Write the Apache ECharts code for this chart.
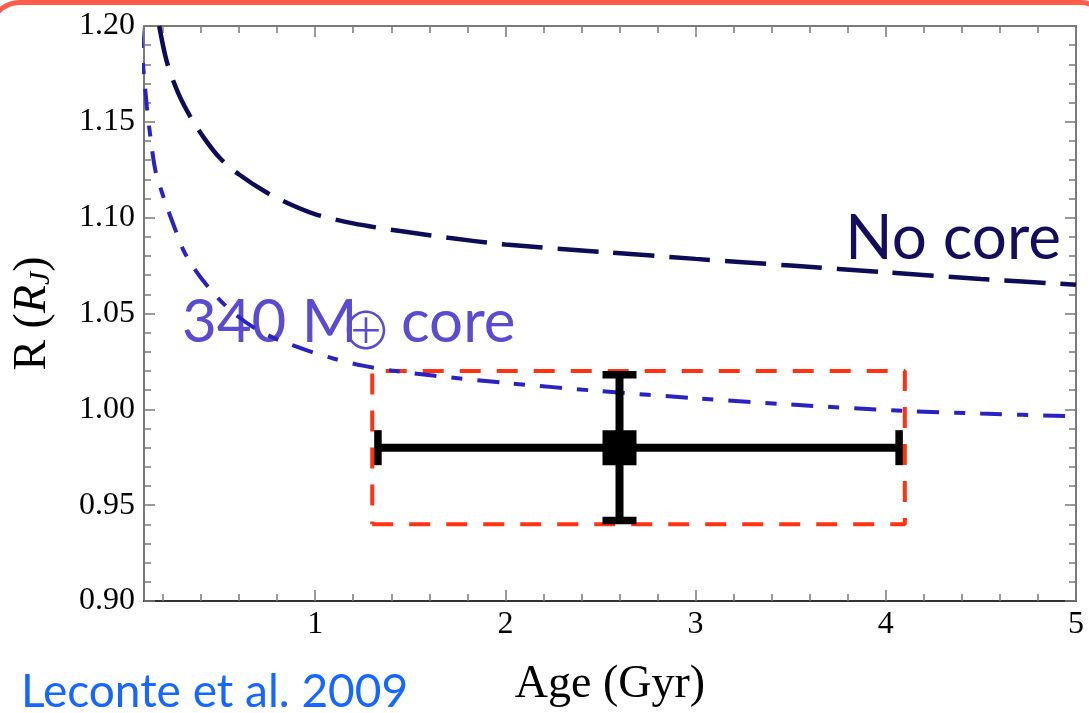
<!DOCTYPE html>
<html>
<head>
<meta charset="utf-8">
<script src="https://cdn.jsdelivr.net/npm/echarts@6/dist/echarts.min.js"></script>
<style>
html,body{margin:0;padding:0;background:#fff;}
#chart{width:1089px;height:713px;}
</style>
</head>
<body>
<div id="chart"></div>
<script>
// ---- data ----
const noCoreAge = [0.18, 0.221, 0.28, 0.342, 0.42, 0.5, 0.6, 0.747, 0.88, 1.01, 1.2, 1.447, 1.7, 2.0, 2.5, 3.0, 3.5, 4.0, 4.5, 5.0];
const noCoreR   = [1.200, 1.181, 1.165, 1.153, 1.141, 1.131, 1.1225, 1.113, 1.1065, 1.1015, 1.097, 1.093, 1.0895, 1.086, 1.0822, 1.0785, 1.075, 1.0715, 1.068, 1.065];

const coreAge = [0.079, 0.09, 0.10, 0.115, 0.135, 0.16, 0.19, 0.221, 0.26, 0.305, 0.35, 0.395, 0.48, 0.568, 0.68, 0.8, 0.95, 1.095, 1.25, 1.4, 1.63, 2.0, 2.5, 3.0, 3.5, 4.1, 4.5, 5.0];
const coreR   = [1.200, 1.186, 1.174, 1.158, 1.141, 1.1245, 1.1145, 1.1055, 1.095, 1.0835, 1.0757, 1.0692, 1.059, 1.0505, 1.0425, 1.0365, 1.031, 1.0265, 1.0228, 1.0203, 1.0175, 1.0138, 1.0095, 1.0058, 1.0025, 0.9992, 0.9978, 0.9963];

const pointAge = [2.6];
const pointR = [0.98];
const pointAgeRange = [1.33, 4.07];
const pointRRange = [0.942, 1.018];

const boxAge = [1.3, 4.1, 4.1, 1.3, 1.3];
const boxR   = [0.94, 0.94, 1.02, 1.02, 0.94];

const xMajor = [1, 2, 3, 4, 5];
const xMinor = [0.2, 0.4, 0.6, 0.8, 1.2, 1.4, 1.6, 1.8, 2.2, 2.4, 2.6, 2.8, 3.2, 3.4, 3.6, 3.8, 4.2, 4.4, 4.6, 4.8];
const yMajor = [0.90, 0.95, 1.00, 1.05, 1.10, 1.15, 1.20];
const yMinor = [0.91, 0.92, 0.93, 0.94, 0.96, 0.97, 0.98, 0.99, 1.01, 1.02, 1.03, 1.04,
                1.06, 1.07, 1.08, 1.09, 1.11, 1.12, 1.13, 1.14, 1.16, 1.17, 1.18, 1.19];

const labelNoCore = 'No core';
const labelCoreA = '340 M';
const labelCoreSym = '⊕';
const labelCoreB = 'core';
const labelRef = 'Leconte et al. 2009';
const xTitle = 'Age (Gyr)';

// ---- chart ----
const chart = echarts.init(document.getElementById('chart'), null, {renderer: 'canvas'});
const serif = 'Liberation Serif';
const gray = '#7a7a7a';

function xAx(pos, ticks, len, showLine, showLabel, lineColor) {
  return {
    type: 'value', position: pos, min: 0.1, max: 5,
    axisLine: {show: showLine, lineStyle: {color: lineColor || gray, width: 2}},
    axisTick: {show: true, inside: true, length: len, customValues: ticks, lineStyle: {color: gray, width: 1.5}},
    axisLabel: showLabel ? {show: true, customValues: ticks, color: '#000', fontFamily: serif, fontSize: 32, margin: 8} : {show: false},
    splitLine: {show: false}
  };
}
function yAx(pos, ticks, len, showLine, showLabel) {
  return {
    type: 'value', position: pos, min: 0.9, max: 1.2,
    axisLine: {show: showLine, lineStyle: {color: gray, width: 2}},
    axisTick: {show: true, inside: true, length: len, customValues: ticks, lineStyle: {color: gray, width: 1.5}},
    axisLabel: showLabel ? {show: true, customValues: ticks, color: '#000', fontFamily: serif, fontSize: 32, margin: 9,
      formatter: v => v.toFixed(2)} : {show: false},
    splitLine: {show: false}
  };
}

const xMain = xAx('bottom', xMajor, 11, true, true, '#333');
xMain.name = xTitle;
xMain.nameLocation = 'middle';
xMain.nameGap = 61;
xMain.nameTextStyle = {color: '#000', fontFamily: serif, fontSize: 46};

const yMain = yAx('left', yMajor, 11, true, true);
yMain.name = '{n|R (}{i|R}{s|J}{n|)}';
yMain.nameLocation = 'middle';
yMain.nameRotate = 90;
yMain.nameGap = 88;
yMain.nameTextStyle = {
  color: '#000',
  rich: {
    n: {fontFamily: serif, fontSize: 46, color: '#000'},
    i: {fontFamily: serif, fontSize: 46, fontStyle: 'italic', color: '#000'},
    s: {fontFamily: serif, fontSize: 30, fontStyle: 'italic', color: '#000', verticalAlign: 'bottom'}
  }
};

const option = {
  animation: false,
  backgroundColor: '#fff',
  grid: {left: 144, right: 13, top: 26, bottom: 111, containLabel: false},
  xAxis: [
    xMain,
    xAx('bottom', xMinor, 7, false, false),
    xAx('top', xMajor, 11, true, false),
    xAx('top', xMinor, 7, false, false)
  ],
  yAxis: [
    yMain,
    yAx('left', yMinor, 7, false, false),
    yAx('right', yMajor, 11, true, false),
    yAx('right', yMinor, 7, false, false)
  ],
  series: [
    {
      name: 'box', type: 'line', z: 2,
      data: boxAge.map((a, i) => [a, boxR[i]]),
      showSymbol: false, symbol: 'none',
      lineStyle: {color: '#ff3312', width: 4, type: [21, 16]}
    },
    {
      name: '340 core', type: 'line', z: 3, smooth: 0.3, clip: false,
      data: coreAge.map((a, i) => [a, coreR[i]]),
      showSymbol: false, symbol: 'none',
      lineStyle: {color: '#2b22c2', width: 4, type: [22, 15, 11, 15]}
    },
    {
      name: 'No core', type: 'line', z: 3, smooth: 0.3,
      data: noCoreAge.map((a, i) => [a, noCoreR[i]]),
      showSymbol: false, symbol: 'none',
      lineStyle: {color: '#0e0b57', width: 4.5, type: [41, 15]}
    },
    {
      name: 'errorbar', type: 'custom', z: 5,
      data: pointAge.map((a, i) => [a, pointR[i], pointAgeRange[0], pointAgeRange[1], pointRRange[0], pointRRange[1]]),
      encode: {x: [0, 2, 3], y: [1, 4, 5]},
      renderItem: function (params, api) {
        const y = api.value(1), x = api.value(0);
        const l = api.coord([api.value(2), y]);
        const r = api.coord([api.value(3), y]);
        const b = api.coord([x, api.value(4)]);
        const t = api.coord([x, api.value(5)]);
        const st = {stroke: '#000', lineWidth: 8};
        const capH = 17.5, capW = 17;
        return {
          type: 'group',
          children: [
            {type: 'line', shape: {x1: l[0], y1: l[1], x2: r[0], y2: r[1]}, style: st},
            {type: 'line', shape: {x1: b[0], y1: b[1], x2: t[0], y2: t[1]}, style: st},
            {type: 'line', shape: {x1: l[0], y1: l[1] - capH, x2: l[0], y2: l[1] + capH}, style: {stroke: '#000', lineWidth: 7.5}},
            {type: 'line', shape: {x1: r[0], y1: r[1] - capH, x2: r[0], y2: r[1] + capH}, style: {stroke: '#000', lineWidth: 7.5}},
            {type: 'line', shape: {x1: t[0] - capW, y1: t[1], x2: t[0] + capW, y2: t[1]}, style: {stroke: '#000', lineWidth: 7.5}},
            {type: 'line', shape: {x1: b[0] - capW, y1: b[1], x2: b[0] + capW, y2: b[1]}, style: {stroke: '#000', lineWidth: 7.5}}
          ]
        };
      }
    },
    {
      name: 'point', type: 'scatter', z: 6,
      data: pointAge.map((a, i) => [a, pointR[i]]),
      symbol: 'rect', symbolSize: [34, 35],
      itemStyle: {color: '#000', opacity: 1}
    }
  ],
  graphic: [
    {
      type: 'rect', z: 100, silent: true,
      shape: {x: -10, y: 2.5, width: 1120, height: 800, r: 30},
      style: {fill: 'none', stroke: '#ff5c4d', lineWidth: 5}
    },
    {
      type: 'text', z: 50, x: 1061, y: 239,
      style: {text: labelNoCore, fill: '#140c5c', font: '62px Lato', textAlign: 'right', textVerticalAlign: 'middle'}
    },
    {
      type: 'text', z: 1, x: 182, y: 323,
      style: {text: labelCoreA, fill: '#5b4bd1', font: '60px Lato', textAlign: 'left', textVerticalAlign: 'middle'}
    },
    {
      type: 'text', z: 1, x: 366, y: 330,
      style: {text: labelCoreSym, fill: '#5b4bd1', font: '300 52px "Noto Sans CJK SC"', textAlign: 'center', textVerticalAlign: 'middle'}
    },
    {
      type: 'text', z: 1, x: 401, y: 323,
      style: {text: labelCoreB, fill: '#5b4bd1', font: '60px Lato', textAlign: 'left', textVerticalAlign: 'middle'}
    },
    {
      type: 'text', z: 50, x: 21, y: 692,
      style: {text: labelRef, fill: '#1667ff', font: '46px Lato', textAlign: 'left', textVerticalAlign: 'middle'}
    }
  ]
};
chart.setOption(option);
</script>
</body>
</html>
